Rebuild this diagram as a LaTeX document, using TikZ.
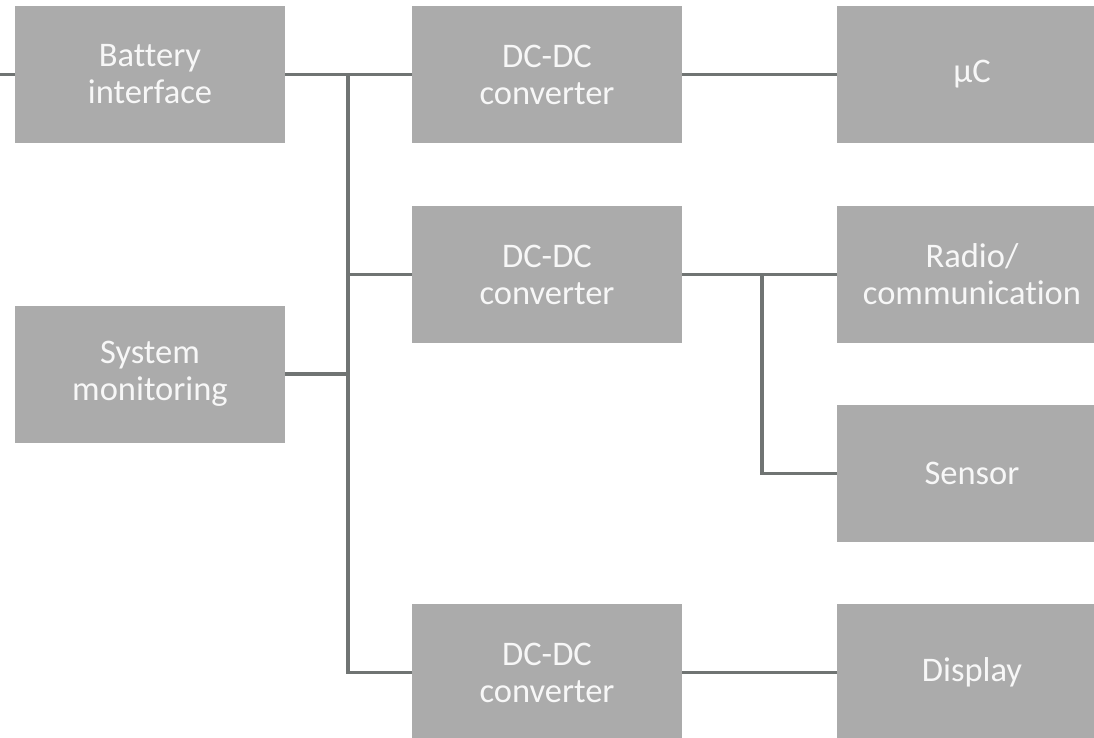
\documentclass[tikz,border=0pt]{standalone}
\usepackage{fontspec}
\setmainfont{Carlito}[Ligatures=NoCommon]
\definecolor{boxgray}{HTML}{ABABAB}
\definecolor{wiregray}{HTML}{707473}
\definecolor{labelwhite}{HTML}{F7F7F7}
\tikzset{
  block/.style={fill=boxgray, draw=none, minimum width=270pt, minimum height=137pt,
    inner sep=0pt, text=labelwhite, align=center,
    font=\fontsize{34.5}{37}\selectfont},
  wire/.style={draw=wiregray, line width=3.8pt, line join=miter}
}
\begin{document}
\begin{tikzpicture}[x=1pt, y=-1pt]
  \path[use as bounding box, clip] (0,0) rectangle (1094,738);

  % left column
  \node[block] (batt) at (150,74.5) {Battery\\interface};
  \node[block] (sys)  at (150,374)  {System\\monitoring};
  % converters
  \node[block] (dc1) at (547,74.5)  {DC-DC\\converter};
  \node[block] (dc2) at (547,274.5) {DC-DC\\converter};
  \node[block] (dc3) at (547,672.5) {DC-DC\\converter};
  % loads
  \node[block] (uc)     at (972,74.5)  {µC};
  \node[block] (radio)  at (972,274.5) {Radio/\\communication};
  \node[block] (sensor) at (972,473.5) {Sensor};
  \node[block] (disp)   at (972,672.5) {Display};

  % supply input and distribution bus
  \coordinate (in) at (0,74.5);
  \coordinate (bus) at (348,74.5);
  \coordinate (tap) at (762,274.5);
  \draw[wire] (in) -- (batt.west);
  \draw[wire] (batt.east) -- (dc1.west);
  \draw[wire] (bus) |- (dc3.west);
  \draw[wire] (dc2.west -| bus) -- (dc2.west);
  \draw[wire] (sys.east) -- (sys.east -| bus);

  % converter outputs
  \draw[wire] (dc1.east) -- (uc.west);
  \draw[wire] (dc2.east) -- (radio.west);
  \draw[wire] (tap) |- (sensor.west);
  \draw[wire] (dc3.east) -- (disp.west);
\end{tikzpicture}
\end{document}
